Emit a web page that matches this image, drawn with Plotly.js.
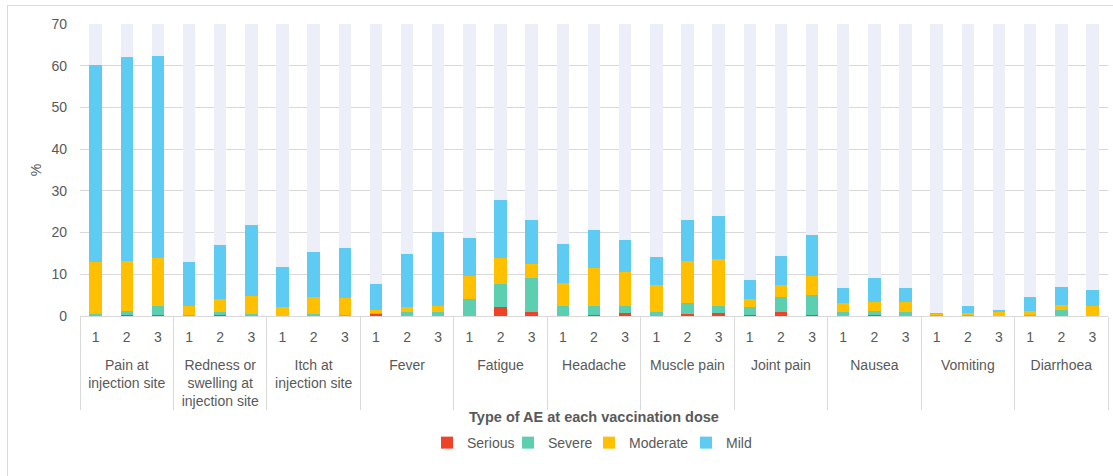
<!DOCTYPE html>
<html>
<head>
<meta charset="utf-8">
<script src="https://cdn.plot.ly/plotly-3.0.1.min.js"></script>
<style>
  html, body { margin: 0; padding: 0; background: #ffffff; overflow: hidden; }
  #wrap { position: relative; width: 1113px; height: 476px; overflow: hidden; }
  #chart { position: absolute; left: 0; top: 0; width: 1113px; height: 476px; }
  #frame { position: absolute; left: 7px; top: 5px; width: 1200px; height: 600px;
           border: 1.5px solid #d9d9d9; box-sizing: border-box; pointer-events: none; }
</style>
</head>
<body>
<div id="wrap">
  <div id="chart"></div>
  <div id="frame"></div>
</div>
<script>
// ---- Data (percent of participants) ----
const aeTypes = ["Pain at<br>injection site", "Redness or<br>swelling at<br>injection site", "Itch at<br>injection site",
  "Fever", "Fatigue", "Headache", "Muscle pain", "Joint pain", "Nausea", "Vomiting", "Diarrhoea"];
const doses = ["1", "2", "3"];

const serious = [
  0, 0.3, 0.3,   0, 0.3, 0,   0, 0, 0,   0.5, 0, 0,   0, 2.2, 1.0,   0, 0.3, 0.8,
  0, 0.6, 0.7,   0.3, 1.0, 0.3,   0, 0.3, 0,   0, 0, 0,   0, 0, 0];
const severe = [
  0.6, 0.9, 2.1,   0.3, 0.7, 0.6,   0, 0.6, 0.2,   0.3, 1.0, 1.0,   4.0, 5.5, 8.0,   2.3, 2.0, 1.7,
  1.0, 2.6, 1.7,   1.9, 3.6, 4.7,   1.0, 0.9, 1.0,   0.2, 0.3, 0.1,   0.2, 1.4, 0.1];
const moderate = [
  12.4, 12.0, 11.4,   2.1, 3.0, 4.2,   2.2, 4.0, 4.2,   0.6, 1.2, 1.4,   5.7, 6.1, 3.5,   5.6, 9.3, 8.0,
  6.5, 9.9, 11.2,   1.8, 2.9, 4.6,   2.0, 2.2, 2.4,   0.4, 0.35, 0.9,   0.9, 1.2, 2.2];
const mild = [
  47.2, 49.0, 48.6,   10.5, 13.1, 16.9,   9.6, 10.7, 11.8,   6.3, 12.7, 17.7,   9.1, 13.9, 10.6,   9.4, 9.0, 7.7,
  6.6, 9.8, 10.4,   4.6, 6.9, 9.8,   3.6, 5.6, 3.2,   0.1, 1.75, 0.4,   3.5, 4.4, 3.9];
const axisMax = 70;

// ---- Build category arrays (a blank first line spaces group labels below the dose labels) ----
const xGroup = [], xDose = [];
aeTypes.forEach(g => doses.forEach(d => { xGroup.push("\u00a0<br>" + g); xDose.push(d); }));
const xCats = [xGroup, xDose];
const backdrop = serious.map((v, i) => axisMax - (v + severe[i] + moderate[i] + mild[i]));

const colors = { serious: "#ef4328", severe: "#5ccfb0", moderate: "#ffc000", mild: "#5ecbf3", back: "#eceff8" };
function barTrace(name, y, color, show, lw) {
  const t = { type: "bar", name: name, x: xCats, y: y, marker: { color: color, line: { width: 0 } },
           showlegend: show, hoverinfo: show ? "x+y+name" : "skip" };
  if (lw) t.legendwidth = lw;
  return t;
}
const traces = [
  barTrace("Serious", serious, colors.serious, true, 36),
  barTrace("Severe", severe, colors.severe, true, 36),
  barTrace("Moderate", moderate, colors.moderate, true, 52),
  barTrace("Mild", mild, colors.mild, true, 30),
  barTrace("", backdrop, colors.back, false)
];

const fontFam = "Liberation Sans, Arial, sans-serif";
const grey = "#595959";
const layout = {
  width: 1113, height: 476,
  margin: { l: 79.5, r: 4.5, t: 24, b: 160 },
  paper_bgcolor: "rgba(0,0,0,0)", plot_bgcolor: "#ffffff",
  barmode: "stack", bargap: 0.6,
  font: { family: fontFam, size: 14, color: grey },
  xaxis: {
    type: "multicategory",
    showline: true, linecolor: "#d9d9d9", linewidth: 1,
    showdividers: true, dividercolor: "#d9d9d9", dividerwidth: 1,
    ticks: "", ticklabelstandoff: 8,
    tickfont: { family: fontFam, size: 14, color: grey },
    showgrid: false, zeroline: false,
    title: { text: "<b>Type of AE at each vaccination dose</b>", font: { family: fontFam, size: 14.5, color: grey }, standoff: 3 }
  },
  yaxis: {
    range: [0, axisMax], dtick: 10, showgrid: true, gridcolor: "#d9d9d9", gridwidth: 1,
    zeroline: false, showline: false, ticks: "", ticklabelstandoff: 12,
    tickfont: { family: fontFam, size: 14, color: grey },
    title: { text: "%", font: { family: fontFam, size: 14, color: grey }, standoff: 6 }
  },
  legend: {
    orientation: "h", x: 0.5, xanchor: "center", y: -0.435, yanchor: "middle",
    font: { family: fontFam, size: 14, color: grey }, traceorder: "normal",
    itemwidth: 30, tracegroupgap: 0, entrywidthmode: "pixels"
  },
  showlegend: true
};

Plotly.newPlot("chart", traces, layout, { displayModeBar: false, staticPlot: true });
</script>
</body>
</html>
